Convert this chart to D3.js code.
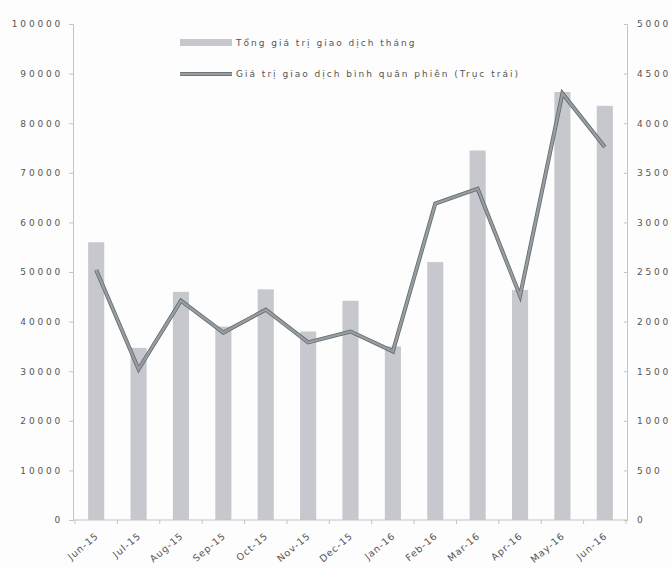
<!DOCTYPE html>
<html>
<head>
<meta charset="utf-8">
<script src="https://cdn.jsdelivr.net/npm/d3@7"></script>
<style>
  body { margin: 0; background: #fdfdfd; }
  text { font-family: "DejaVu Sans", sans-serif; fill: #555; }
</style>
</head>
<body>
<div id="chart"></div>
<script>
// months on the x axis
var months = ["Jun-15", "Jul-15", "Aug-15", "Sep-15", "Oct-15", "Nov-15", "Dec-15",
              "Jan-16", "Feb-16", "Mar-16", "Apr-16", "May-16", "Jun-16"];
// Tổng giá trị giao dịch tháng (left axis)
var monthTotal = [56000, 34700, 46000, 39000, 46500, 38000, 44200,
                  35000, 52000, 74500, 46400, 86300, 83500];
// Giá trị giao dịch bình quân phiên (right axis)
var sessionAvg = [2520, 1520, 2210, 1890, 2120, 1790, 1900,
                  1700, 3190, 3340, 2260, 4300, 3760];
var leftTicks = [0, 10000, 20000, 30000, 40000, 50000, 60000, 70000, 80000, 90000, 100000];
var rightTicks = [0, 500, 1000, 1500, 2000, 2500, 3000, 3500, 4000, 4500, 5000];
var legendLabels = ["Tổng giá trị giao dịch tháng", "Giá trị giao dịch bình quân phiên (Trục trái)"];

var W = 671, H = 568;
var plotLeft = 73, plotRight = 627, plotTop = 24, plotBottom = 520;

var svg = d3.select("#chart").append("svg")
    .attr("width", W).attr("height", H);

var x = d3.scaleBand()
    .domain(months)
    .range([75, 626])
    .paddingInner(0.62)
    .paddingOuter(0.31);

var y = d3.scaleLinear().domain([0, 100000]).range([plotBottom, plotTop]);
var y2 = d3.scaleLinear().domain([0, 5000]).range([plotBottom, plotTop]);

// bars
svg.selectAll("rect.bar")
    .data(monthTotal)
    .enter().append("rect")
    .attr("class", "bar")
    .attr("x", (d, i) => x(months[i]))
    .attr("y", d => y(d))
    .attr("width", x.bandwidth())
    .attr("height", d => y(0) - y(d))
    .attr("fill", "#c6c8ce");

// left axis
var gl = svg.append("g")
    .attr("transform", "translate(" + plotLeft + ",0)")
    .call(d3.axisLeft(y).tickValues(leftTicks).tickSize(4).tickPadding(6).tickFormat(d3.format("d")));
gl.select(".domain").attr("stroke", "#c4c4c4");
gl.selectAll(".tick line").attr("stroke", "#c4c4c4");
gl.selectAll("text").style("font-size", "9px").style("letter-spacing", "2.8px").attr("fill", "#5a5a5a");

// right axis
var gr = svg.append("g")
    .attr("transform", "translate(" + plotRight + ",0)")
    .call(d3.axisRight(y2).tickValues(rightTicks).tickSize(-3).tickPadding(10).tickFormat(d3.format("d")));
gr.select(".domain").attr("stroke", "#c4c4c4");
gr.selectAll(".tick line").attr("stroke", "#c4c4c4");
gr.selectAll("text").style("font-size", "9px").style("letter-spacing", "2.8px").attr("fill", "#5a5a5a");

// bottom axis line with ticks between categories
svg.append("line")
    .attr("x1", plotLeft).attr("x2", plotRight)
    .attr("y1", plotBottom).attr("y2", plotBottom)
    .attr("stroke", "#c4c4c4");
var step = x.step();
var edges = d3.range(months.length + 1).map(i => x(months[0]) - (step - x.bandwidth()) / 2 + i * step);
svg.selectAll("line.xtick")
    .data(edges)
    .enter().append("line")
    .attr("class", "xtick")
    .attr("x1", d => d).attr("x2", d => d)
    .attr("y1", plotBottom).attr("y2", plotBottom + 4)
    .attr("stroke", "#c4c4c4");

svg.selectAll("text.xlab")
    .data(months)
    .enter().append("text")
    .attr("class", "xlab")
    .attr("transform", d => "translate(" + (x(d) + x.bandwidth() / 2 + 3) + "," + (plotBottom + 17) + ") rotate(-40)")
    .attr("text-anchor", "end")
    .style("font-size", "9.5px")
    .style("letter-spacing", "1px")
    .attr("fill", "#444")
    .text(d => d);

// line series
var line = d3.line()
    .x((d, i) => x(months[i]) + x.bandwidth() / 2)
    .y(d => y2(d));
svg.append("path")
    .datum(sessionAvg)
    .attr("d", line)
    .attr("fill", "none")
    .attr("stroke", "#62696c")
    .attr("stroke-width", 4);
svg.append("path")
    .datum(sessionAvg)
    .attr("d", line)
    .attr("fill", "none")
    .attr("stroke", "#969ea1")
    .attr("stroke-width", 2.4);

// legend
var lg = svg.append("g").attr("transform", "translate(180,0)");
lg.append("rect")
    .attr("x", 0).attr("y", 39).attr("width", 52).attr("height", 7)
    .attr("fill", "#c6c8ce");
lg.append("line")
    .attr("x1", 0).attr("x2", 52).attr("y1", 74).attr("y2", 74)
    .attr("stroke", "#62696c").attr("stroke-width", 4);
lg.append("line")
    .attr("x1", 0).attr("x2", 52).attr("y1", 74).attr("y2", 74)
    .attr("stroke", "#969ea1").attr("stroke-width", 2.4);
lg.selectAll("text.leg")
    .data(legendLabels)
    .enter().append("text")
    .attr("class", "leg")
    .attr("x", 56)
    .attr("y", (d, i) => 46 + i * 31)
    .style("font-size", "9px")
    .style("letter-spacing", "2px")
    .text(d => d);
</script>
</body>
</html>
